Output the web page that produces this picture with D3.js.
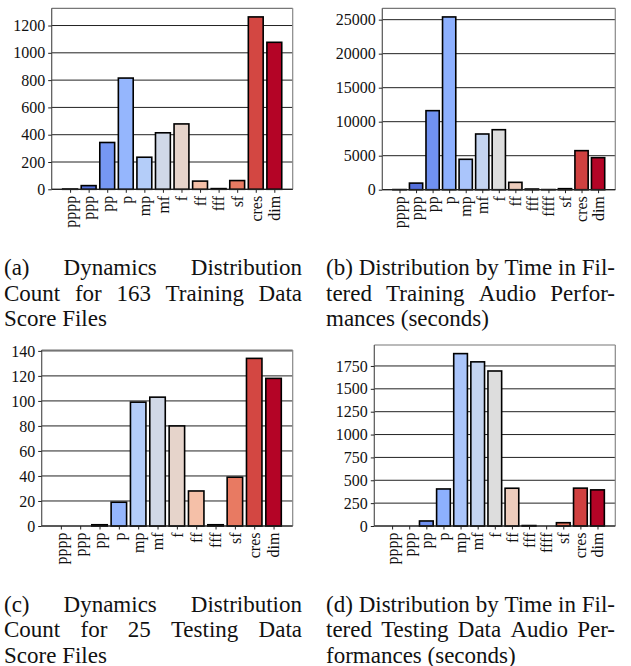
<!DOCTYPE html>
<html>
<head>
<meta charset="utf-8">
<script src="https://cdn.jsdelivr.net/npm/d3@7"></script>
<style>
  html, body { margin: 0; padding: 0; background: #fff; }
  svg { display: block; }
  text { font-family: "Liberation Serif", "Times New Roman", serif; }
</style>
</head>
<body>
<svg id="fig" width="631" height="666"></svg>
<script>
// Dynamic markings
const scoreCategories = ["pppp", "ppp", "pp", "p", "mp", "mf", "f", "ff", "fff", "sf", "cres", "dim"];
const audioCategories = ["pppp", "ppp", "pp", "p", "mp", "mf", "f", "ff", "fff", "ffff", "sf", "cres", "dim"];

// (a) marking counts in 163 training score files
const trainScoreCounts = [2, 27, 343, 815, 235, 414, 479, 60, 5, 64, 1263, 1077];
// (b) seconds of filtered training audio per marking
const trainAudioSeconds = [20, 970, 11620, 25400, 4470, 8190, 8820, 1080, 100, 20, 150, 5740, 4710];
// (c) marking counts in 25 testing score files
const testScoreCounts = [0, 0, 1, 19, 99, 103, 80, 28, 1, 39, 134, 118];
// (d) seconds of filtered testing audio per marking
const testAudioSeconds = [0, 0, 55, 405, 1885, 1795, 1695, 413, 5, 0, 36, 414, 395];

// y tick values
const ticksA = [0, 200, 400, 600, 800, 1000, 1200];
const ticksB = [0, 5000, 10000, 15000, 20000, 25000];
const ticksC = [0, 20, 40, 60, 80, 100, 120, 140];
const ticksD = [0, 250, 500, 750, 1000, 1250, 1500, 1750];

// sub-captions, one array per line
const captionA = ["(a) Dynamics Distribution", "Count for 163 Training Data", "Score Files"];
const captionB = ["(b) Distribution by Time in Fil-", "tered Training Audio Perfor-", "mances (seconds)"];
const captionC = ["(c) Dynamics Distribution", "Count for 25 Testing Data", "Score Files"];
const captionD = ["(d) Distribution by Time in Fil-", "tered Testing Data Audio Per-", "formances (seconds)"];

// coolwarm diverging colormap, control points every 1/8
const coolwarmStops = ["#3b4cc0", "#6282ea", "#8db0fe", "#b8d0f9", "#dddddd",
                       "#f5c4ac", "#f49a7b", "#de604d", "#b40426"];
const coolwarm = d3.piecewise(d3.interpolateRgb, coolwarmStops);

const svg = d3.select("#fig");
svg.append("rect").attr("width", 631).attr("height", 666).attr("fill", "#fff");

const panels = [
  { cats: scoreCategories, vals: trainScoreCounts, ticks: ticksA, box: { l: 51.7, r: 292.7, t: 8.3, b: 189.3 } },
  { cats: audioCategories, vals: trainAudioSeconds, ticks: ticksB, box: { l: 382.3, r: 615.3, t: 8.3, b: 189.7 } },
  { cats: scoreCategories, vals: testScoreCounts, ticks: ticksC, box: { l: 41.7, r: 292.7, t: 350, b: 526 } },
  { cats: audioCategories, vals: testAudioSeconds, ticks: ticksD, box: { l: 374.3, r: 615.3, t: 345, b: 526 } }
];

const TICK = 3.5, PAD = 3, FS = 16;

panels.forEach(p => {
  const n = p.cats.length;
  const margin = 0.05 * (n - 1 + 0.8);
  const x = d3.scaleLinear().domain([-0.4 - margin, n - 1 + 0.4 + margin]).range([p.box.l, p.box.r]);
  const y = d3.scaleLinear().domain([0, d3.max(p.vals) * 1.05]).range([p.box.b, p.box.t]);
  const g = svg.append("g");

  // horizontal grid
  g.append("g").selectAll("line").data(p.ticks).join("line")
    .attr("x1", p.box.l).attr("x2", p.box.r)
    .attr("y1", d => y(d)).attr("y2", d => y(d))
    .attr("stroke", "#222").attr("stroke-width", 1);

  // bars
  g.append("g").selectAll("rect").data(p.vals).join("rect")
    .attr("x", (d, i) => x(i - 0.4))
    .attr("width", (d, i) => x(i + 0.4) - x(i - 0.4))
    .attr("y", d => y(d))
    .attr("height", d => y(0) - y(d))
    .attr("fill", (d, i) => coolwarm(i / (n - 1)))
    .attr("stroke", "#000").attr("stroke-width", 1.6);

  // spines
  const { l, r, t, b } = p.box;
  g.append("line").attr("x1", l).attr("x2", r).attr("y1", t).attr("y2", t).attr("stroke", "#777").attr("stroke-width", 1.2);
  g.append("line").attr("x1", r).attr("x2", r).attr("y1", t).attr("y2", b).attr("stroke", "#888").attr("stroke-width", 1.2);
  g.append("line").attr("x1", l).attr("x2", l).attr("y1", t).attr("y2", b).attr("stroke", "#555").attr("stroke-width", 1.2);
  g.append("line").attr("x1", l).attr("x2", r).attr("y1", b).attr("y2", b).attr("stroke", "#222").attr("stroke-width", 1.2);

  // y axis
  const ya = g.append("g").attr("transform", `translate(${l},0)`)
    .call(d3.axisLeft(y).tickValues(p.ticks).tickSize(TICK).tickPadding(PAD).tickFormat(d3.format("d")));
  ya.select(".domain").remove();
  ya.selectAll("line").attr("stroke", "#222");
  ya.selectAll("text").attr("font-size", FS).attr("fill", "#111").style("font-family", "Liberation Serif");

  // x axis with vertical labels
  const xa = g.append("g").attr("transform", `translate(0,${b})`)
    .call(d3.axisBottom(x).tickValues(d3.range(n)).tickFormat(i => p.cats[i]).tickSize(TICK));
  xa.select(".domain").remove();
  xa.selectAll("line").attr("stroke", "#222");
  xa.selectAll("text")
    .attr("font-size", FS).attr("fill", "#111").style("font-family", "Liberation Serif")
    .attr("transform", "rotate(-90)")
    .attr("x", -(TICK + PAD)).attr("y", 0).attr("dy", "0.33em")
    .style("text-anchor", "end");
});

// justified captions
function caption(lines, x0, x1, baselines) {
  const g = svg.append("g").attr("font-size", 23).attr("fill", "#111");
  lines.forEach((line, li) => {
    const words = line.split(" ");
    const last = li === lines.length - 1;
    const nodes = words.map(w => g.append("text").attr("y", baselines[li]).text(w));
    const widths = nodes.map(nd => nd.node().getComputedTextLength());
    const total = d3.sum(widths);
    const space = nodes.length > 1 ? (last ? 23 * 0.25 : (x1 - x0 - total) / (nodes.length - 1)) : 0;
    let cx = x0;
    nodes.forEach((nd, i) => { nd.attr("x", cx); cx += widths[i] + space; });
  });
}
caption(captionA, 4, 302, [275, 300.5, 326]);
caption(captionB, 326, 615, [275, 300.5, 326]);
caption(captionC, 4, 302, [611.5, 637, 662.5]);
caption(captionD, 326, 615, [611.5, 637, 662.5]);
</script>
</body>
</html>
